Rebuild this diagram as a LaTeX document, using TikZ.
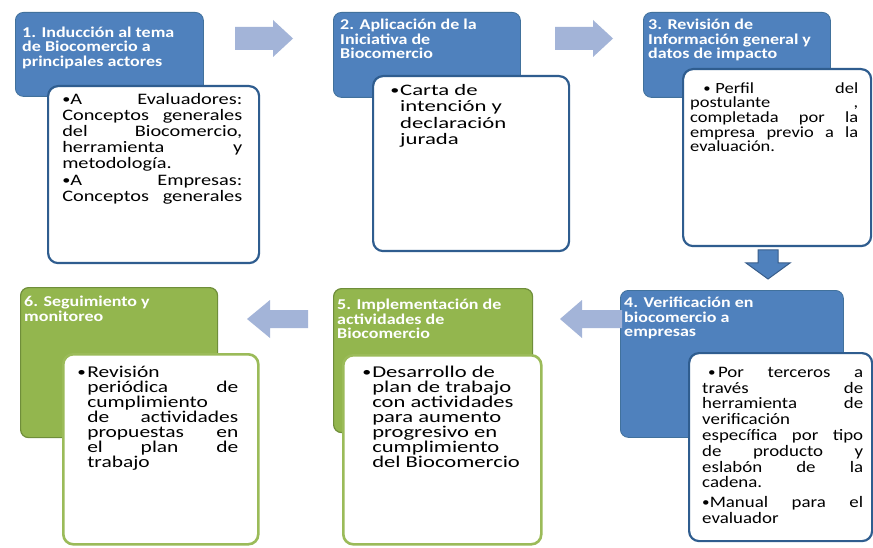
\documentclass[tikz,border=0pt]{standalone}
\usepackage{fontspec}
\setmainfont{Carlito}
\definecolor{hblue}{HTML}{4F81BD}
\definecolor{hblueline}{HTML}{41719C}
\definecolor{bblue}{HTML}{2F5D8F}
\definecolor{hgreen}{HTML}{93B64E}
\definecolor{hgreenline}{HTML}{6F8E3A}
\definecolor{bgreen}{HTML}{9BBB59}
\definecolor{arrcol}{HTML}{A3B4D8}
\definecolor{darrline}{HTML}{385D8A}
\newcommand{\mybul}{\raisebox{0.8pt}{\scalebox{0.8}{•}}}
\tikzset{
  hdrblue/.style={draw=hblueline, line width=0.8pt, fill=hblue, rounded corners=8pt, inner sep=0pt, anchor=north west},
  hdrgreen/.style={draw=hgreenline, line width=1.2pt, fill=hgreen, rounded corners=8pt, inner sep=0pt, anchor=north west},
  bodyblue/.style={draw=bblue, line width=2.2pt, fill=white, rounded corners=10pt, inner sep=0pt, anchor=north west},
  bodygreen/.style={draw=bgreen, line width=2.6pt, fill=white, rounded corners=10pt, inner sep=0pt, anchor=north west},
  hdrtext/.style={anchor=north west, inner sep=0pt, align=left, text=white, font=\fontsize{15}{14.5}\selectfont\bfseries, xscale=1.2},
  bodytext/.style={anchor=north west, inner sep=0pt, align=left, text=black},
  blockarrow/.style={fill=arrcol, draw=none},
  downarrow/.style={fill=hblue, draw=darrline, line width=1pt}
}
\begin{document}
\begin{tikzpicture}[x=1pt, y=-1pt]
\useasboundingbox (0,0) rectangle (873,548);
\fill[white] (0,0) rectangle (873,548);

% ---- Box 1
\node[hdrblue, minimum width=188pt, minimum height=84pt] (h1) at (15,12) {};
\node[hdrtext] (t1) at (22,26) {\rule{0pt}{11pt}1. Inducción al tema\\de Biocomercio a\\principales actores};
\node[bodyblue, minimum width=211pt, minimum height=177pt] (b1) at (47,85) {};
\node[bodytext, font=\fontsize{16}{16.2}\selectfont, xscale=1.27] (c1) at (62,92) {%
\rule{0pt}{12pt}\makebox[141.7pt][s]{\mybul A Evaluadores:}\\
\makebox[141.7pt][s]{Conceptos generales}\\
\makebox[141.7pt][s]{del Biocomercio,}\\
\makebox[141.7pt][s]{herramienta y}\\
metodología.\\
\makebox[141.7pt][s]{\mybul A Empresas:}\\
\makebox[141.7pt][s]{Conceptos generales}};

% ---- Box 2
\node[hdrblue, minimum width=187pt, minimum height=85pt] (h2) at (333,12) {};
\node[hdrtext] (t2) at (340,18.5) {\rule{0pt}{11pt}2. Aplicación de la\\Iniciativa de\\Biocomercio};
\node[bodyblue, minimum width=196pt, minimum height=175pt] (b2) at (372,75) {};
\node[bodytext, font=\fontsize{16}{16.5}\selectfont, xscale=1.42] (c2) at (390,83) {%
\rule{0pt}{12pt}\makebox[7pt][l]{\mybul}Carta de\\
\hspace*{7pt}intención y\\
\hspace*{7pt}declaración\\
\hspace*{7pt}jurada};

% ---- Box 3
\node[hdrblue, minimum width=187pt, minimum height=85pt] (h3) at (643,12) {};
\node[hdrtext] (t3) at (648,18.5) {\rule{0pt}{11pt}3. Revisión de\\Información general y\\datos de impacto};
\node[bodyblue, minimum width=188pt, minimum height=177pt] (b3) at (682,68) {};
\node[bodytext, font=\fontsize{15.5}{14.7}\selectfont, xscale=1.19] (c3) at (690,81) {%
\rule{0pt}{12pt}\makebox[141.2pt][s]{\hspace*{11pt}\mybul\hspace*{4pt}Perfil del}\\
\makebox[141.2pt][s]{postulante ,}\\
\makebox[141.2pt][s]{completada por la}\\
\makebox[141.2pt][s]{empresa previo a la}\\
evaluación.};

% ---- Box 4
\node[hdrblue, minimum width=223pt, minimum height=147pt] (h4) at (620,290) {};
\node[hdrtext] (t4) at (624,296.5) {\rule{0pt}{11pt}4. Verificación en\\biocomercio a\\empresas};
\node[bodyblue, minimum width=183pt, minimum height=188pt] (b4) at (688,352) {};
\node[bodytext, font=\fontsize{16}{15.8}\selectfont, xscale=1.18] (c4) at (702,365) {%
\rule{0pt}{12pt}\makebox[136.4pt][s]{\hspace*{5pt}\mybul\hspace*{2pt}Por terceros a}\\
\makebox[136.4pt][s]{través de}\\
\makebox[136.4pt][s]{herramienta de}\\
verificación\\
\makebox[136.4pt][s]{específica por tipo}\\
\makebox[136.4pt][s]{de producto y}\\
\makebox[136.4pt][s]{eslabón de la}\\
cadena.\\[4pt]
\makebox[136.4pt][s]{\mybul Manual para el}\\
evaluador};

% ---- Box 5
\node[hdrgreen, minimum width=199pt, minimum height=144pt] (h5) at (333,288) {};
\node[hdrtext] (t5) at (337,298.5) {\rule{0pt}{11pt}5. Implementación de\\actividades de\\Biocomercio};
\node[bodygreen, minimum width=198pt, minimum height=189pt] (b5) at (342,354) {};
\node[bodytext, font=\fontsize{16.5}{15}\selectfont, xscale=1.37] (c5) at (362,365) {%
\rule{0pt}{12pt}\makebox[7.3pt][l]{\mybul}Desarrollo de\\
\hspace*{7.3pt}plan de trabajo\\
\hspace*{7.3pt}con actividades\\
\hspace*{7.3pt}para aumento\\
\hspace*{7.3pt}progresivo en\\
\hspace*{7.3pt}cumplimiento\\
\hspace*{7.3pt}del Biocomercio};

% ---- Box 6
\node[hdrgreen, minimum width=197pt, minimum height=150pt] (h6) at (20,287) {};
\node[hdrtext] (t6) at (24,295.5) {\rule{0pt}{11pt}6. Seguimiento y\\monitoreo};
\node[bodygreen, minimum width=195pt, minimum height=190pt] (b6) at (62,353) {};
\node[bodytext, font=\fontsize{16.5}{15}\selectfont, xscale=1.3] (c6) at (77,365) {%
\rule{0pt}{12pt}\makebox[7.7pt][l]{\mybul}Revisión\\
\hspace*{7.7pt}\makebox[116.2pt][s]{periódica de}\\
\hspace*{7.7pt}cumplimiento\\
\hspace*{7.7pt}\makebox[116.2pt][s]{de actividades}\\
\hspace*{7.7pt}\makebox[116.2pt][s]{propuestas en}\\
\hspace*{7.7pt}\makebox[116.2pt][s]{el plan de}\\
\hspace*{7.7pt}trabajo};

% ---- Block arrows
\fill[blockarrow] (235,27) -- (273,27) -- (273,20) -- (293,38.5) -- (273,57) -- (273,50) -- (235,50) -- cycle;
\fill[blockarrow] (555,27) -- (593,27) -- (593,20) -- (613,38.5) -- (593,57) -- (593,50) -- (555,50) -- cycle;
\fill[blockarrow] (622,310) -- (582,310) -- (582,300) -- (560,319) -- (582,338) -- (582,328) -- (622,328) -- cycle;
\fill[blockarrow] (308,310) -- (270,310) -- (270,300) -- (247,319) -- (270,338) -- (270,328) -- (308,328) -- cycle;
\filldraw[downarrow] (758,250) -- (778,250) -- (778,263) -- (790,263) -- (768,279) -- (746,263) -- (758,263) -- cycle;
\end{tikzpicture}
\end{document}
